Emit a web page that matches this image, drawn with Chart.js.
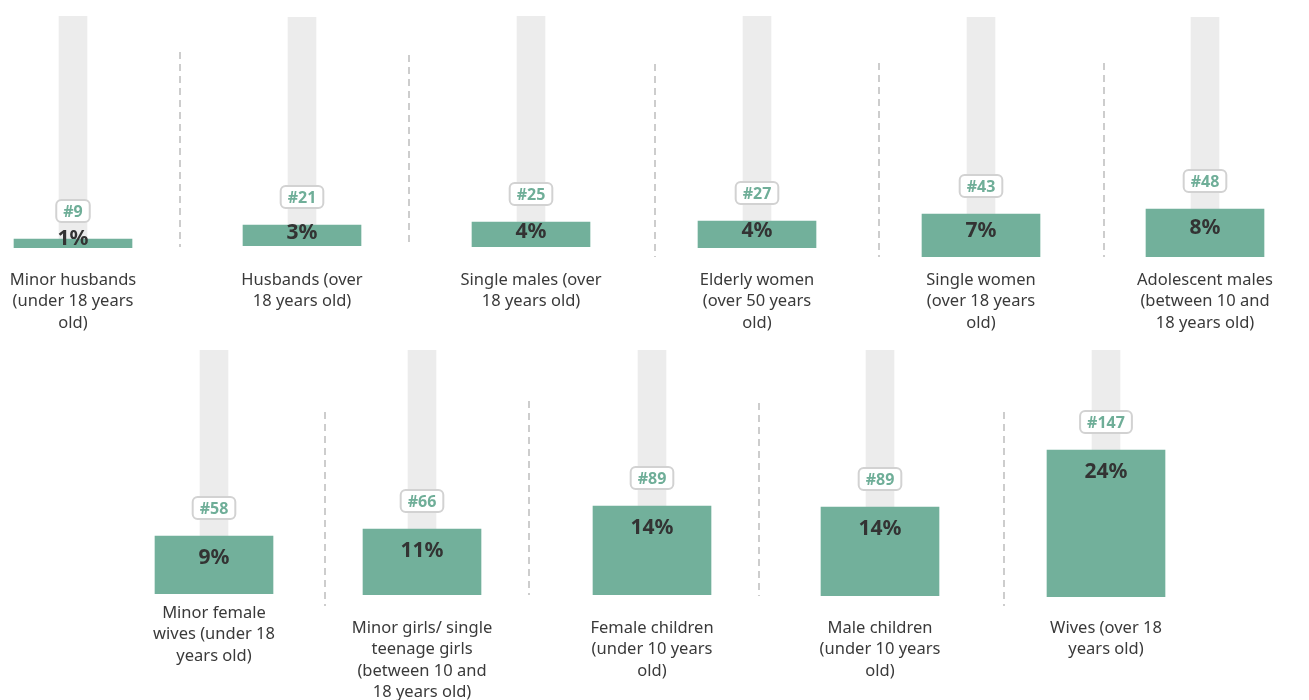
<!DOCTYPE html>
<html>
<head>
<meta charset="utf-8">
<script src="https://cdn.jsdelivr.net/npm/chart.js@4.4.0/dist/chart.umd.min.js"></script>
<style>
  body { margin: 0; background: #fff; width: 1309px; height: 700px; overflow: hidden; position: relative; }
  .panel { position: absolute; }
  .sep { position: absolute; width: 2px; background: repeating-linear-gradient(to bottom, #cdcdcd 0 7px, transparent 7px 12px); }
</style>
</head>
<body>
<script>
/* ── data ── */
const categories = [
  ['Minor husbands', '(under 18 years', 'old)'],
  ['Husbands (over', '18 years old)'],
  ['Single males (over', '18 years old)'],
  ['Elderly women', '(over 50 years', 'old)'],
  ['Single women', '(over 18 years', 'old)'],
  ['Adolescent males', '(between 10 and', '18 years old)'],
  ['Minor female', 'wives (under 18', 'years old)'],
  ['Minor girls/ single', 'teenage girls', '(between 10 and', '18 years old)'],
  ['Female children', '(under 10 years', 'old)'],
  ['Male children', '(under 10 years', 'old)'],
  ['Wives (over 18', 'years old)']
];
const counts = [9, 21, 25, 27, 43, 48, 58, 66, 89, 89, 147];
const shares = [1, 3, 4, 4, 7, 8, 9, 11, 14, 14, 24];

/* ── layout: bar centre, track top, bar base, first label line centre ── */
const panels = [
  { cx: 73,   top: 16,  base: 248, labelY: 280 },
  { cx: 302,  top: 17,  base: 246, labelY: 280 },
  { cx: 531,  top: 16,  base: 247, labelY: 280 },
  { cx: 757,  top: 16,  base: 248, labelY: 280 },
  { cx: 981,  top: 17,  base: 257, labelY: 280 },
  { cx: 1205, top: 17,  base: 257, labelY: 280 },
  { cx: 214,  top: 350, base: 594, labelY: 613 },
  { cx: 422,  top: 350, base: 595, labelY: 628 },
  { cx: 652,  top: 350, base: 595, labelY: 628 },
  { cx: 880,  top: 350, base: 596, labelY: 628 },
  { cx: 1106, top: 350, base: 597, labelY: 628 }
];
const separators = [
  [180, 52, 247], [409, 55, 247], [655, 64, 257], [879, 63, 257], [1104, 63, 257],
  [325, 412, 606], [529, 401, 595], [759, 403, 596], [1004, 412, 606]
];

const GREEN = '#72b09b', TRACK = '#ececec', TEXT = '#3a3a3a';
const FONT = "'Noto Sans', sans-serif";
const AX_H = 120, LINE_H = 21.5, W = 220;

separators.forEach(([x, y1, y2]) => {
  const d = document.createElement('div');
  d.className = 'sep';
  d.style.left = (x - 1) + 'px'; d.style.top = y1 + 'px'; d.style.height = (y2 - y1) + 'px';
  document.body.appendChild(d);
});

/* badge (#count) above the bar, share inside its top */
function barLabels(i) {
  return {
    id: 'barLabels' + i,
    afterDatasetsDraw(chart) {
      const bar = chart.getDatasetMeta(0).data[0];
      const ctx = chart.ctx;
      const h = bar.base - bar.y;
      ctx.save();
      ctx.textAlign = 'center';
      ctx.textBaseline = 'alphabetic';

      ctx.font = 'bold 16px ' + FONT;
      const txt = '#' + counts[i];
      const tw = ctx.measureText(txt).width;
      const bw = tw + 14, bh = 22, by = bar.y - 28;
      ctx.beginPath();
      ctx.roundRect(bar.x - bw / 2, by - bh / 2, bw, bh, 5);
      ctx.fillStyle = '#fff'; ctx.fill();
      ctx.lineWidth = 2; ctx.strokeStyle = '#d2d2d2'; ctx.stroke();
      ctx.fillStyle = '#6fae98';
      ctx.fillText(txt, bar.x, by + 5.7);

      // share label: sits just over a thin bar, further inside a taller one
      ctx.font = 'bold 21px ' + FONT;
      ctx.fillStyle = '#333';
      const off = h < 15 ? -2 : Math.min(0.4 * h - 2, 20);
      ctx.fillText(shares[i] + '%', bar.x, bar.y + off + 7.5);
      ctx.restore();
    }
  };
}

panels.forEach((p, i) => {
  const trackH = p.base - p.top;
  const div = document.createElement('div');
  div.className = 'panel';
  div.style.left = (p.cx - W / 2) + 'px';
  div.style.top = p.top + 'px';
  div.style.width = W + 'px';
  div.style.height = (trackH + AX_H) + 'px';
  const cv = document.createElement('canvas');
  div.appendChild(cv);
  document.body.appendChild(div);

  new Chart(cv, {
    type: 'bar',
    data: {
      labels: [categories[i]],
      datasets: [
        { data: [counts[i]], backgroundColor: GREEN, barThickness: 118, grouped: false },
        { data: [trackH], backgroundColor: TRACK, barThickness: 28, grouped: false }
      ]
    },
    options: {
      responsive: true, maintainAspectRatio: false, animation: false,
      layout: { padding: 0 },
      plugins: { legend: { display: false }, tooltip: { enabled: false } },
      scales: {
        x: {
          grid: { display: false, drawTicks: false }, border: { display: false },
          ticks: {
            padding: p.labelY - p.base - LINE_H / 2, maxRotation: 0, minRotation: 0, autoSkip: false,
            color: TEXT, font: { family: FONT, size: 16.5, lineHeight: LINE_H + 'px' }
          },
          afterFit: ax => { ax.height = AX_H; }
        },
        y: { display: false, min: 0, max: trackH }
      }
    },
    plugins: [barLabels(i)]
  });
});
</script>
</body>
</html>
